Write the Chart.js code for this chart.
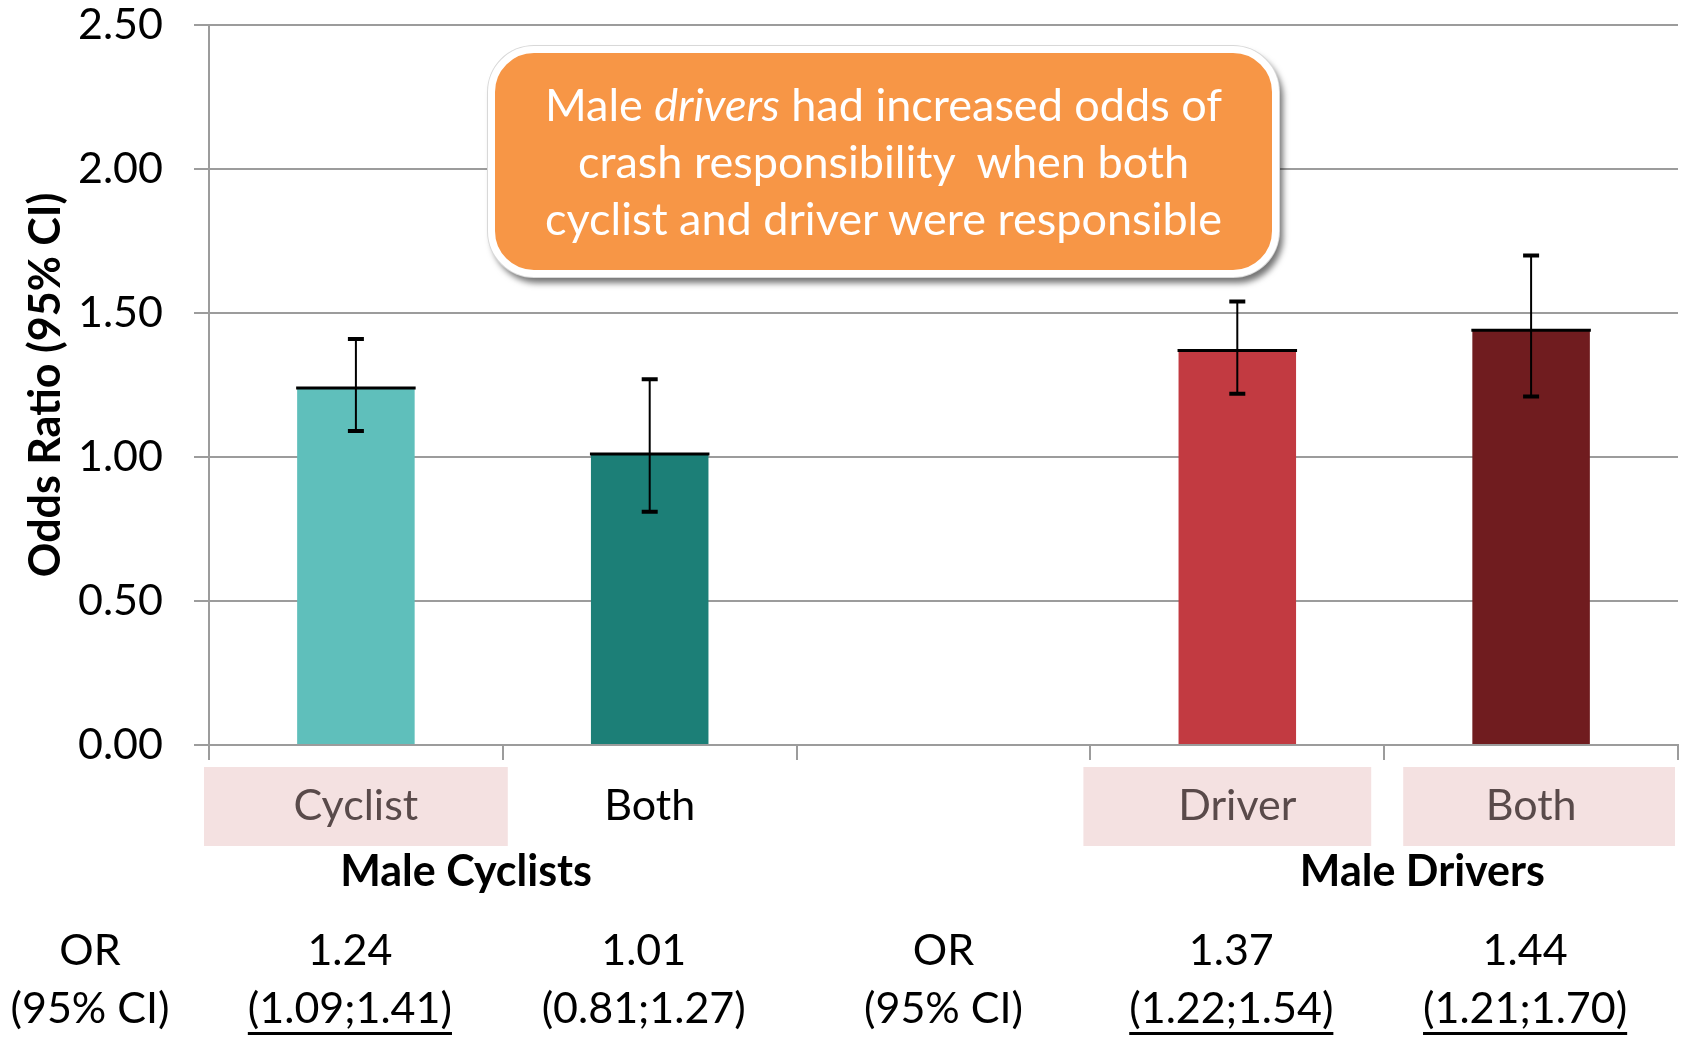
<!DOCTYPE html>
<html>
<head>
<meta charset="utf-8">
<script src="https://cdn.jsdelivr.net/npm/chart.js@4.4.1/dist/chart.umd.min.js"></script>
<style>
  body { margin: 0; background: #fff; }
  #wrap { position: relative; width: 1683px; height: 1038px; }
  #note {
    position: absolute; left: 488px; top: 46px; width: 791px; height: 231px;
    box-sizing: border-box; border: 7px solid #fff; border-radius: 46px;
    background: #f79646; color: #fff;
    box-shadow: 0 0 0 1px #d8d8d8, 4px 6px 6px rgba(0,0,0,0.55);
    font-family: 'Lato', sans-serif; font-size: 45px; line-height: 57px;
    display: flex; align-items: center; justify-content: center; text-align: center;
  }
</style>
</head>
<body>
<div id="wrap">
  <canvas id="chart" width="1683" height="1038"></canvas>
  <div id="note"><div>Male <i>drivers</i> had increased odds of<br>crash responsibility&nbsp; when both<br>cyclist and driver were responsible</div></div>
</div>
<script>
    const categories = ['Cyclist', 'Both', '', 'Driver', 'Both'];
    const oddsRatios = [1.24, 1.01, null, 1.37, 1.44];
    const ciLow = [1.09, 0.81, null, 1.22, 1.21];
    const ciHigh = [1.41, 1.27, null, 1.54, 1.70];
    const ciUnderlined = [true, false, false, true, true];
    const groupLabels = ['Male Cyclists', 'Male Drivers'];
    const barColors = ['#5fbfbb', '#1c7f77', '#ffffff', '#c23a41', '#701c1f'];

    const FONT = 'Lato, sans-serif';
    const GRID = '#9c9c9c';

    // pink label boxes: category index -> [left trim, right trim] in px
    const boxTrim = { 0: [-5, 5], 3: [-7, -13], 4: [19, -3] };

    const extras = {
        id: 'extras',
        afterDatasetsDraw(chart) {
            const { ctx, scales: { y } } = chart;
            const meta = chart.getDatasetMeta(0);
            ctx.save();
            ctx.strokeStyle = '#000';
            meta.data.forEach((bar, i) => {
                if (oddsRatios[i] == null) return;
                const half = bar.width / 2;
                ctx.lineWidth = 3;
                ctx.beginPath();
                ctx.moveTo(bar.x - half - 1, bar.y);
                ctx.lineTo(bar.x + half + 1, bar.y);
                ctx.stroke();
                const yl = y.getPixelForValue(ciLow[i]);
                const yh = y.getPixelForValue(ciHigh[i]);
                ctx.lineWidth = 2;
                ctx.beginPath();
                ctx.moveTo(bar.x, yl);
                ctx.lineTo(bar.x, yh);
                ctx.stroke();
                ctx.lineWidth = 4;
                ctx.beginPath();
                ctx.moveTo(bar.x - 8, yl); ctx.lineTo(bar.x + 8, yl);
                ctx.moveTo(bar.x - 8, yh); ctx.lineTo(bar.x + 8, yh);
                ctx.stroke();
            });
            ctx.restore();
        },
        afterDraw(chart) {
            const { ctx, scales: { x } } = chart;
            const cat = x.width / categories.length;
            const at = i => x.left + (i + 0.5) * cat;
            ctx.save();
            ctx.textAlign = 'center';
            ctx.textBaseline = 'middle';

            // category labels
            categories.forEach((c, i) => {
                if (!c) return;
                if (boxTrim[i]) {
                    ctx.fillStyle = '#f4e1e1';
                    const l = at(i) - cat / 2 + boxTrim[i][0];
                    const r = at(i) + cat / 2 + boxTrim[i][1];
                    ctx.fillRect(l, 767, r - l, 79);
                    ctx.fillStyle = '#594a4a';
                } else {
                    ctx.fillStyle = '#000';
                }
                ctx.font = `43px ${FONT}`;
                ctx.fillText(c, at(i), 806);
            });

            // group labels
            ctx.fillStyle = '#000';
            ctx.font = `bold 43px ${FONT}`;
            ctx.fillText(groupLabels[0], at(0.375), 872);
            ctx.fillText(groupLabels[1], at(3.63), 872);

            // OR table
            ctx.font = `43px ${FONT}`;
            [at(-0.905), at(2)].forEach(px => {
                ctx.fillText('OR', px, 951);
                ctx.fillText('(95% CI)', px, 1009);
            });
            oddsRatios.forEach((v, i) => {
                if (v == null) return;
                const px = at(i) - 6;
                ctx.fillText(v.toFixed(2), px, 951);
                const ci = `(${ciLow[i].toFixed(2)};${ciHigh[i].toFixed(2)})`;
                ctx.fillText(ci, px, 1009);
                if (ciUnderlined[i]) {
                    const w = ctx.measureText(ci).width;
                    ctx.fillRect(px - w / 2, 1032, w, 3);
                }
            });
            ctx.restore();
        }
    };

    new Chart(document.getElementById('chart'), {
        type: 'bar',
        data: {
            labels: categories,
            datasets: [{
                data: oddsRatios,
                backgroundColor: barColors,
                barPercentage: 0.4,
                categoryPercentage: 1.0
            }]
        },
        options: {
            responsive: false,
            animation: false,
            layout: { padding: { top: 25, right: 5, left: 0, bottom: 0 } },
            plugins: { legend: { display: false }, tooltip: { enabled: false } },
            scales: {
                x: {
                    grid: { drawOnChartArea: false, drawTicks: true, tickLength: 15, color: GRID, lineWidth: 2, offset: true },
                    border: { color: GRID, width: 2 },
                    ticks: { display: false },
                    afterFit: s => { s.height = 293; }
                },
                y: {
                    min: 0,
                    max: 2.5,
                    ticks: {
                        stepSize: 0.5,
                        padding: 31,
                        color: '#000',
                        font: { family: FONT, size: 43 },
                        callback: v => v.toFixed(2)
                    },
                    grid: { color: GRID, lineWidth: 2, tickLength: 15 },
                    border: { color: GRID, width: 2 },
                    title: {
                        display: true,
                        text: 'Odds Ratio (95% CI)',
                        color: '#000',
                        font: { family: FONT, size: 43, weight: 'bold' },
                        padding: { top: 20, bottom: 0 }
                    },
                    afterFit: s => { s.width = 209; s.paddingTop = 0; s.paddingBottom = 0; }
                }
            }
        },
        plugins: [extras]
    });
</script>
</body>
</html>
